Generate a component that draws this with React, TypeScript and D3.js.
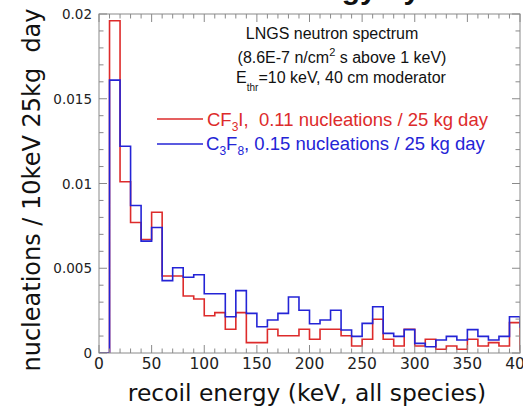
import React from "react";
import * as d3 from "d3";

// bin lower edges every 10 keV (0..400)
const binWidth = 10;
const cf3i = [0, 0.0196, 0.0101, 0.0077, 0.0067, 0.0083, 0.00454, 0.00454, 0.00336, 0.00319, 0.0022, 0.00238, 0.0014, 0.00238, 0.00061, 0.00061, 0.0014, 0.00102, 0.00102, 0.0014, 0.00081, 0.0014, 0.0014, 0.00102, 0.00041, 0.00081, 0.00199, 0.00081, 0.00041, 0.0014, 0.00041, 0.00081, 0.00022, 0.00041, 0.00022, 0.00081, 0.00041, 0.00061, 0.00041, 0.00179, 0.0002];
const c3f8 = [0, 0.0161, 0.0122, 0.0087, 0.0066, 0.0074, 0.00427, 0.00503, 0.00447, 0.00462, 0.0035, 0.0035, 0.00214, 0.00368, 0.00234, 0.00155, 0.00195, 0.00234, 0.0033, 0.00252, 0.00173, 0.00195, 0.00252, 0.00136, 0.00098, 0.00175, 0.00273, 0.00116, 0.00098, 0.00138, 0.00057, 0.00037, 0.00077, 0.00098, 0.00077, 0.00138, 0.00098, 0.00077, 0.00098, 0.00214, 0.00153];
const xTicks = [0, 50, 100, 150, 200, 250, 300, 350, 400];
const xTickLabels = ["0", "50", "100", "150", "200", "250", "300", "350", "400"];
const yTicks = [0, 0.005, 0.01, 0.015, 0.02];
const yTickLabels = ["0", "0.005", "0.01", "0.015", "0.02"];

const W = 523, H = 407;
const L = 99, R = 520, T = 14, B = 353;
const RED = "#dd2b2b";
const BLUE = "#2424d6";
const AX = "#8a8a8a";
const TICKF = "DejaVu Sans, Verdana, sans-serif";
const HELV = "Liberation Sans, Arial, Helvetica, sans-serif";

export default function App() {
  const x = d3.scaleLinear().domain([0, 400]).range([L, R]);
  const y = d3.scaleLinear().domain([0, 0.02]).range([B, T]);

  const stepPath = (vals: number[]) => {
    const pts: [number, number][] = [[0, 0]];
    vals.forEach((v, i) => pts.push([i * binWidth, v]));
    pts.push([vals.length * binWidth, vals[vals.length - 1]]);
    pts.push([vals.length * binWidth, 0]);
    return d3
      .line<[number, number]>()
      .x((d) => x(d[0]))
      .y((d) => y(d[1]))
      .curve(d3.curveStepAfter)(pts) as string;
  };

  const xMinor = d3.range(0, 401, 10);
  const yMinor = d3.range(0, 0.02001, 0.001);
  const isMajorX = (v: number) => v % 50 === 0;
  const isMajorY = (v: number) => Math.abs(v / 0.005 - Math.round(v / 0.005)) < 1e-6;

  return (
    <svg
      width={W}
      height={H}
      viewBox={`0 0 ${W} ${H}`}
      style={{ position: "absolute", left: 0, top: 0, background: "#ffffff" }}
    >
      <defs>
        <clipPath id="plotclip">
          <rect x={L} y={T} width={R - L} height={B - T} />
        </clipPath>
      </defs>
      <rect x={0} y={0} width={W} height={H} fill="#ffffff" />

      {/* clipped title (only descenders visible) */}
      <text x={180} y={-1.5} fontFamily={HELV} fontWeight="bold" fontSize={30} fill="#111">
        Recoil energy by fluid
      </text>

      {/* histograms */}
      <g clipPath="url(#plotclip)" fill="none" strokeWidth={1.6}>
        <path d={stepPath(cf3i)} stroke={RED} />
        <path d={stepPath(c3f8)} stroke={BLUE} />
      </g>

      {/* frame */}
      <rect x={L} y={T} width={R - L} height={B - T} fill="none" stroke={AX} strokeWidth={1} />

      {/* ticks */}
      <g stroke={AX} strokeWidth={1}>
        {xMinor.map((v) => {
          const len = isMajorX(v) ? 8 : 4.5;
          return (
            <g key={"xt" + v}>
              <line x1={x(v)} x2={x(v)} y1={B} y2={B - len} />
              <line x1={x(v)} x2={x(v)} y1={T} y2={T + len} />
            </g>
          );
        })}
        {yMinor.map((v, i) => {
          const len = isMajorY(v) ? 8 : 4.5;
          return (
            <g key={"yt" + i}>
              <line x1={L} x2={L + len} y1={y(v)} y2={y(v)} />
              <line x1={R} x2={R - len} y1={y(v)} y2={y(v)} />
            </g>
          );
        })}
      </g>

      {/* x tick labels */}
      <g fontFamily={TICKF} fontSize={15.5} fill="#222" textAnchor="middle">
        {xTicks.map((v, i) => (
          <text key={"xl" + v} x={x(v)} y={369}>
            {xTickLabels[i]}
          </text>
        ))}
      </g>
      {/* y tick labels */}
      <g fontFamily={TICKF} fontSize={13.5} fill="#222" textAnchor="end">
        {yTicks.map((v, i) => (
          <text key={"yl" + v} x={92} y={y(v) + 5}>
            {yTickLabels[i]}
          </text>
        ))}
      </g>

      {/* axis titles */}
      <text x={307} y={401} fontFamily={TICKF} fontSize={23.4} fill="#111" textAnchor="middle">
        recoil energy (keV, all species)
      </text>
      <text
        transform="translate(40,190) rotate(-90)"
        fontFamily={TICKF}
        fontSize={24}
        fill="#111"
        textAnchor="middle"
        style={{ whiteSpace: "pre" }}
      >
        {"nucleations / 10keV 25kg  day"}
      </text>

      {/* annotation */}
      <g fontFamily={HELV} fontSize={16} fill="#111" textAnchor="middle">
        <text x={332} y={39}>LNGS neutron spectrum</text>
        <text x={342} y={63}>
          (8.6E-7 n/cm<tspan fontSize={11} dy={-7}>2</tspan>
          <tspan dy={7}> s above 1 keV)</tspan>
        </text>
        <text x={341} y={83}>
          E<tspan fontSize={10} dy={8}>thr</tspan>
          <tspan dy={-8}>=10 keV, 40 cm moderator</tspan>
        </text>
      </g>

      {/* legend */}
      <line x1={157} x2={203} y1={119} y2={119} stroke={RED} strokeWidth={1.6} />
      <text x={207} y={126} fontFamily={HELV} fontSize={18.5} fill={RED} style={{ whiteSpace: "pre" }}>
        CF<tspan fontSize={12} dy={5}>3</tspan>
        <tspan dy={-5}>{"I,  0.11 nucleations / 25 kg day"}</tspan>
      </text>
      <line x1={157} x2={203} y1={144} y2={144} stroke={BLUE} strokeWidth={1.6} />
      <text x={206} y={150} fontFamily={HELV} fontSize={18.5} fill={BLUE} style={{ whiteSpace: "pre" }}>
        C<tspan fontSize={12} dy={5}>3</tspan>
        <tspan dy={-5}>F</tspan>
        <tspan fontSize={12} dy={5}>8</tspan>
        <tspan dy={-5}>{", 0.15 nucleations / 25 kg day"}</tspan>
      </text>
    </svg>
  );
}
